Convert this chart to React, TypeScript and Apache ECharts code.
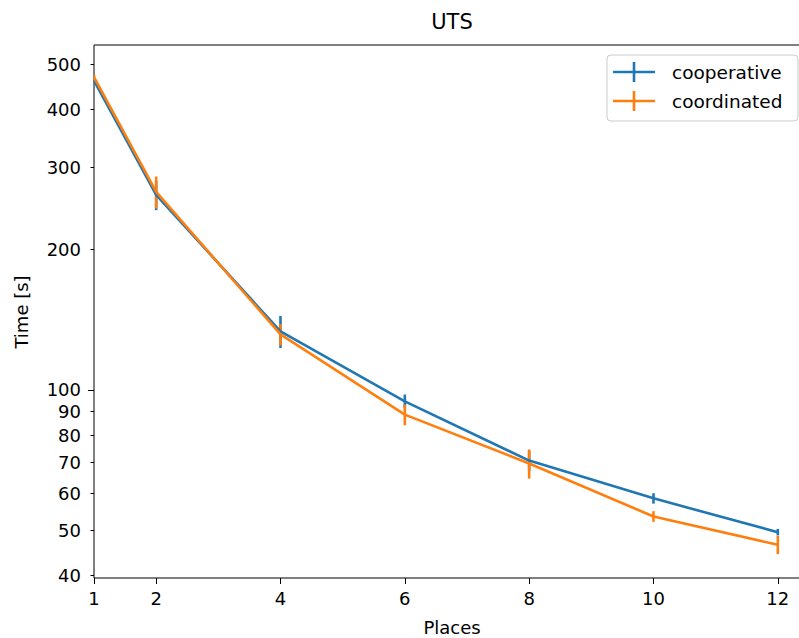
import React, { useEffect, useRef } from "react";
import * as echarts from "echarts";

const places = [1, 2, 4, 6, 8, 10, 12];
const cooperative = [461, 262, 133.5, 94.5, 70.5, 58.5, 49.5];
const cooperativeErr = [5, 19, 10.5, 3.2, 3.5, 1.5, 0.8];
const coordinated = [469, 266, 131.5, 88.5, 69.5, 53.5, 46.5];
const coordinatedErr = [5, 21, 7, 4.5, 5, 1.4, 2.1];
const xTicks = [1, 2, 4, 6, 8, 10, 12];
const yTickLabels = [40, 50, 60, 70, 80, 90, 100, 200, 300, 400, 500];
const yMajor = [100];
const seriesNames = ["cooperative", "coordinated"];
const colors = ["#1f77b4", "#ff7f0e"];

const FONT = "DejaVu Sans";
const L = Math.log10;

export default function App() {
  const ref = useRef<HTMLDivElement>(null);
  useEffect(() => {
    if (!ref.current) return;
    const chart = echarts.init(ref.current, null, { renderer: "svg" });
    const lineData = (vals: number[]) => places.map((x, i) => [x, L(vals[i])]);
    const errData = (vals: number[], errs: number[]) =>
      places.map((x, i) => [x, L(vals[i] - errs[i]), L(vals[i] + errs[i])]);
    const errSeries = (name: string, vals: number[], errs: number[], color: string) => ({
      type: "custom",
      name: name + "_err",
      xAxisIndex: 0,
      yAxisIndex: 0,
      clip: true,
      silent: true,
      encode: { x: 0, y: [1, 2] },
      data: errData(vals, errs),
      renderItem: (params: any, api: any) => {
        const x = api.value(0);
        const p1 = api.coord([x, api.value(1)]);
        const p2 = api.coord([x, api.value(2)]);
        return {
          type: "line",
          shape: { x1: p1[0], y1: p1[1], x2: p2[0], y2: p2[1] },
          style: { stroke: color, lineWidth: 2.6 },
        };
      },
    });
    const lineSeries = (name: string, vals: number[], color: string) => ({
      type: "line",
      name,
      xAxisIndex: 0,
      yAxisIndex: 0,
      data: lineData(vals),
      symbol: "none",
      showSymbol: false,
      color,
      itemStyle: { color },
      lineStyle: { color, width: 2.6 },
    });
    const yMin = L(39.47);
    const yMax = L(549.6);
    const icon = "path://M0,8.7H42V11.3H0Z M19.7,0H22.3V20H19.7Z";
    chart.setOption({
      animation: false,
      backgroundColor: "#ffffff",
      textStyle: { fontFamily: FONT },
      grid: {
        left: 94,
        top: 45,
        width: 718,
        height: 533,
        containLabel: false,
        outerBoundsMode: "none",
        show: true,
        borderColor: "#000000",
        borderWidth: 1,
        backgroundColor: "transparent",
      },
      xAxis: [
        {
          type: "value",
          min: 1,
          max: 12.55,
          axisLine: { show: false },
          splitLine: { show: false },
          axisTick: {
            customValues: xTicks,
            length: 6,
            lineStyle: { color: "#000", width: 1 },
          },
          axisLabel: {
            customValues: xTicks,
            margin: 11,
            fontSize: 18,
            color: "#000",
            fontFamily: FONT,
          },
        },
      ],
      yAxis: [
        {
          type: "value",
          min: yMin,
          max: yMax,
          axisLine: { show: false },
          splitLine: { show: false },
          axisTick: {
            customValues: yMajor.map(L),
            length: 6,
            lineStyle: { color: "#000", width: 1 },
          },
          axisLabel: {
            customValues: yTickLabels.map(L),
            margin: 13,
            fontSize: 18,
            color: "#000",
            fontFamily: FONT,
            formatter: (v: number) => String(Math.round(Math.pow(10, v))),
          },
        },
        {
          type: "value",
          min: yMin,
          max: yMax,
          position: "left",
          axisLine: { show: false },
          splitLine: { show: false },
          axisLabel: { show: false },
          axisTick: {
            customValues: yTickLabels.filter((t) => yMajor.indexOf(t) < 0).map(L),
            length: 3.5,
            lineStyle: { color: "#000", width: 1 },
          },
        },
      ],
      legend: {
        orient: "vertical",
        left: 613,
        top: 62,
        padding: 0,
        itemGap: 9,
        itemWidth: 42,
        itemHeight: 20,
        icon,
        data: seriesNames,
        itemStyle: { borderWidth: 0 },
        textStyle: {
          fontSize: 18.5,
          color: "#000",
          fontFamily: FONT,
          padding: [0, 0, 0, 12],
        },
        selectedMode: false,
        z: 10,
      },
      graphic: [
        {
          type: "rect",
          shape: { x: 607, y: 55, width: 191, height: 66, r: 4 },
          style: { fill: "rgba(255,255,255,0.8)", stroke: "#cccccc", lineWidth: 1 },
          z: 5,
        },
        {
          type: "text",
          x: 452,
          y: 22,
          style: {
            text: "UTS",
            fontSize: 21,
            fontFamily: FONT,
            fill: "#000",
            align: "center",
            verticalAlign: "middle",
          },
        },
        {
          type: "text",
          x: 452,
          y: 627,
          style: {
            text: "Places",
            fontSize: 18,
            fontFamily: FONT,
            fill: "#000",
            align: "center",
            verticalAlign: "middle",
          },
        },
        {
          type: "text",
          x: 21,
          y: 312,
          rotation: Math.PI / 2,
          style: {
            text: "Time [s]",
            fontSize: 18,
            fontFamily: FONT,
            fill: "#000",
            align: "center",
            verticalAlign: "middle",
          },
        },
      ],
      series: [
        lineSeries(seriesNames[0], cooperative, colors[0]),
        errSeries(seriesNames[0], cooperative, cooperativeErr, colors[0]),
        lineSeries(seriesNames[1], coordinated, colors[1]),
        errSeries(seriesNames[1], coordinated, coordinatedErr, colors[1]),
      ],
    });
    return () => chart.dispose();
  }, []);
  return (
    <div
      ref={ref}
      style={{ position: "fixed", left: 0, top: 0, width: 799, height: 638 }}
    />
  );
}
